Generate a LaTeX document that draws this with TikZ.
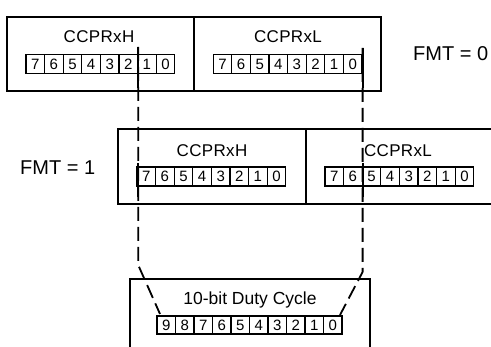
\documentclass[tikz,border=0pt]{standalone}
\usepackage{fontspec}
\setmainfont{Liberation Sans}
\newfontfamily\regfont[LetterSpace=2]{Liberation Sans}
\tikzset{
  regbox/.style={draw, line width=1.6pt, inner sep=0pt},
  bitcell/.style={draw, line width=1.2pt, inner sep=0pt, minimum width=18.6pt, minimum height=19pt, font=\fontsize{15}{15}\selectfont},
  regname/.style={anchor=base, inner sep=0pt, font=\regfont\fontsize{17}{17}\selectfont},
  fmtlabel/.style={anchor=base west, inner sep=0pt, font=\fontsize{20}{20}\selectfont},
  mapline/.style={line width=1.8pt, dash pattern=on 14pt off 6pt},
  solidline/.style={line width=1.8pt},
}
\begin{document}
\begin{tikzpicture}[x=1pt, y=-1pt, line cap=butt, line join=miter]
  \useasboundingbox (0,0) rectangle (491,347);
  % FMT = 0 : both registers side by side
  \node[regbox, minimum width=187pt, minimum height=74pt] (topH) at (100.5,54) {};
  \node[regbox, minimum width=187pt, minimum height=74pt] (topL) at (287.5,54) {};
  \node[regname] (topHname) at (99,43) {CCPRxH};
  \node[regname] (topLname) at (288,43) {CCPRxL};
  \foreach \b [count=\i from 0] in {7,6,...,0} \node[bitcell] (th\b) at ({26+18.6*\i+9.3},64) {\b};
  \foreach \b [count=\i from 0] in {7,6,...,0} \node[bitcell] (tl\b) at ({213.2+18.6*\i+9.3},64) {\b};
  \node[fmtlabel] (fmt0) at (413,61) {FMT = 0};
  % FMT = 1 : shifted by two bits
  \node[regbox, minimum width=188pt, minimum height=75pt] (midH) at (212,166.5) {};
  \node[regbox, minimum width=189pt, minimum height=75pt] (midL) at (400.5,166.5) {};
  \node[regname] (midHname) at (212,157) {CCPRxH};
  \node[regname] (midLname) at (398,157) {CCPRxL};
  \foreach \b [count=\i from 0] in {7,6,...,0} \node[bitcell] (mh\b) at ({137+18.6*\i+9.3},176.5) {\b};
  \foreach \b [count=\i from 0] in {7,6,...,0} \node[bitcell] (ml\b) at ({325+18.6*\i+9.3},176.5) {\b};
  \node[fmtlabel] (fmt1) at (20,175) {FMT = 1};
  % duty cycle result
  \node[regbox, minimum width=240pt, minimum height=91pt] (duty) at (250,324.5) {};
  \node[anchor=base, inner sep=0pt, font=\fontsize{17.5}{17.5}\selectfont] (dutyname) at (250,305) {10-bit Duty Cycle};
  \foreach \b [count=\i from 0] in {9,8,...,0} \node[bitcell, minimum width=18.5pt, minimum height=18pt] (dc\b) at ({157+18.5*\i+9.25},325) {\b};
  % mapping lines
  \coordinate (hiTop) at (th2.east |- 0,47);
  \coordinate (hiBend) at (th2.east |- 0,265);
  \coordinate (hiEnd) at (160,314);
  \coordinate (loTop) at (tl0.east |- 0,48);
  \coordinate (loBend) at (tl0.east |- 0,272);
  \coordinate (loEnd) at (340,315);
  \draw[mapline] (hiTop) -- (hiBend) -- (hiEnd);
  \draw[mapline] (loTop) -- (loBend) -- (loEnd);
  \draw[solidline] (hiTop) -- (hiTop |- 0,88) (hiTop |- 0,163) -- (hiTop |- 0,197);
  \draw[solidline] (loTop) -- (loTop |- 0,88) (loTop |- 0,163) -- (loTop |- 0,197);
\end{tikzpicture}
\end{document}
